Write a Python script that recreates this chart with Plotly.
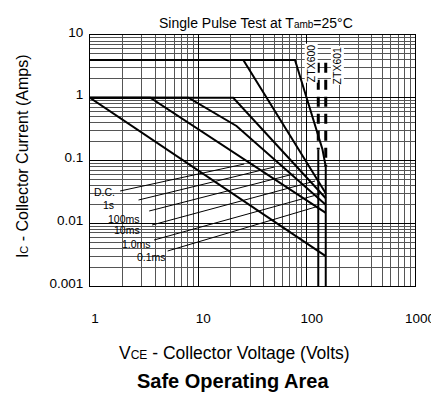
import plotly.graph_objects as go

# ---- data ----
x_tick_vals = [1, 10, 100, 1000]
x_tick_text = ["1", "10", "100", "1000"]
y_tick_vals = [0.001, 0.01, 0.1, 1, 10]
y_tick_text = ["0.001", "0.01", "0.1", "1", "10"]

v_dc = [1, 150]
i_dc = [1.0, 0.003]
v_1s = [1, 3.6, 150]
i_1s = [1.0, 1.0, 0.0146]
v_100ms = [1, 8.1, 22.5, 150]
i_100ms = [1.0, 1.0, 0.355, 0.0198]
v_10ms = [1, 21, 150]
i_10ms = [1.0, 1.0, 0.025]
v_1ms = [1, 26, 150]
i_1ms = [4.0, 4.0, 0.03]
v_01ms = [1, 78, 140, 150]
i_01ms = [4.0, 4.0, 0.15, 0.08]

# VCEO limits (ZTX600 / ZTX601)
v_limit_600 = [128, 128]
i_limit_600_solid = [0.15, 0.001]
i_limit_600_dash = [3.6, 0.15]
v_limit_601 = [150, 150]
i_limit_601_solid = [0.08, 0.001]
i_limit_601_dash = [3.6, 0.08]

curve_labels = ["D.C.", "1s", "100ms", "10ms", "1.0ms", "0.1ms"]

# pixel geometry of the plot area
L, R, T, B = 82, 417, 27, 278
W, H = 439, 395


def px_to_paper(px, py):
    return (px - L) / (R - L), (B - py) / (B - T)


def px_to_data(px, py):
    lv = (px - L) / (R - L) * 3.0
    li = 1.0 - (py - T) / (B - T) * 4.0
    return 10 ** lv, 10 ** li


fig = go.Figure()

line_style = dict(color="black", width=2)
for vx, iy in [(v_dc, i_dc), (v_1s, i_1s), (v_100ms, i_100ms),
               (v_10ms, i_10ms), (v_1ms, i_1ms), (v_01ms, i_01ms)]:
    fig.add_trace(go.Scatter(x=vx, y=iy, mode="lines", line=line_style,
                             hoverinfo="skip", showlegend=False))

for vx, iy in [(v_limit_600, i_limit_600_solid), (v_limit_601, i_limit_601_solid)]:
    fig.add_trace(go.Scatter(x=vx, y=iy, mode="lines", line=line_style,
                             hoverinfo="skip", showlegend=False))
for vx, iy in [(v_limit_600, i_limit_600_dash), (v_limit_601, i_limit_601_dash)]:
    fig.add_trace(go.Scatter(x=vx, y=iy, mode="lines",
                             line=dict(color="black", width=3, dash="10px,7px"),
                             hoverinfo="skip", showlegend=False))

# leader lines from curve labels (pixel positions converted to data)
leaders_px = [
    ((113, 183), (241, 156)),
    ((132, 192), (272, 159)),
    ((143, 203), (292, 166)),
    ((146, 217), (314, 173)),
    ((148, 232), (319, 186)),
    ((162, 243), (318, 198)),
]
for (p0, p1) in leaders_px:
    x0, y0 = px_to_data(*p0)
    x1, y1 = px_to_data(*p1)
    fig.add_trace(go.Scatter(x=[x0, x1], y=[y0, y1], mode="lines",
                             line=dict(color="black", width=1),
                             hoverinfo="skip", showlegend=False))

# white patch behind the curve labels
bx0, by0 = px_to_paper(83, 178)
bx1, by1 = px_to_paper(162, 257)
fig.add_shape(type="rect", xref="paper", yref="paper", x0=bx0, x1=bx1,
              y0=by1, y1=by0, fillcolor="white", line=dict(width=0),
              layer="between")

font = "Liberation Sans, Arial, sans-serif"
annotations = []

# curve labels
label_px = [(84, 184), (93, 197), (99, 211), (105, 222), (113, 236), (128, 249)]
for txt, (px, py) in zip(curve_labels, label_px):
    ax_, ay_ = px_to_paper(px, py)
    annotations.append(dict(x=ax_, y=ay_, xref="paper", yref="paper", text=txt,
                            showarrow=False, xanchor="left", yanchor="middle",
                            font=dict(size=10.5, family=font, color="black")))

# device labels
for txt, (px, py) in [("ZTX600", (310, 55)), ("ZTX601", (337, 57))]:
    ax_, ay_ = px_to_paper(px, py)
    annotations.append(dict(x=ax_, y=ay_, xref="paper", yref="paper", text=txt,
                            showarrow=False, textangle=-90, bgcolor="white",
                            borderpad=0, xanchor="center", yanchor="middle",
                            font=dict(size=10.5, family=font, color="black")))

# titles
tx, ty = px_to_paper(253, 15)
annotations.append(dict(x=tx, y=ty, xref="paper", yref="paper",
                        text="Single Pulse Test at T<span style='font-size:10px'>amb</span>=25°C",
                        showarrow=False, xanchor="center", yanchor="middle",
                        font=dict(size=14, family=font, color="black")))
tx, ty = px_to_paper(231, 345)
annotations.append(dict(x=tx, y=ty, xref="paper", yref="paper",
                        text="V<span style='font-size:12px'>CE</span> - Collector Voltage (Volts)",
                        showarrow=False, xanchor="center", yanchor="middle",
                        font=dict(size=17.5, family=font, color="black")))
tx, ty = px_to_paper(229, 373)
annotations.append(dict(x=tx, y=ty, xref="paper", yref="paper",
                        text="<b>Safe Operating Area</b>",
                        showarrow=False, xanchor="center", yanchor="middle",
                        font=dict(size=20, family=font, color="black")))
tx, ty = px_to_paper(12, 148)
annotations.append(dict(x=tx, y=ty, xref="paper", yref="paper",
                        text="I<span style='font-size:11px'>C</span> - Collector Current (Amps)",
                        showarrow=False, textangle=-90, xanchor="center", yanchor="middle",
                        font=dict(size=16, family=font, color="black")))

fig.update_layout(
    width=W, height=H,
    margin=dict(l=L, r=W - R, t=T, b=H - B, pad=0),
    paper_bgcolor="white", plot_bgcolor="white",
    font=dict(family=font, size=13, color="black"),
    annotations=annotations,
    showlegend=False,
)
fig.update_xaxes(
    type="log", range=[0, 3],
    tickvals=x_tick_vals, ticktext=x_tick_text,
    ticks="", ticklabelstandoff=20, ticklabelshift=5,
    showline=True, linecolor="black", linewidth=1, mirror=True,
    showgrid=True, gridcolor="black", gridwidth=1,
    minor=dict(dtick="D1", showgrid=True, gridcolor="#555555", gridwidth=1),
    tickfont=dict(size=13.5, family=font, color="black"),
    zeroline=False,
)
fig.update_yaxes(
    type="log", range=[-3, 1],
    tickvals=y_tick_vals, ticktext=y_tick_text,
    ticks="", ticklabelstandoff=3, ticklabelshift=-3,
    showline=True, linecolor="black", linewidth=1, mirror=True,
    showgrid=True, gridcolor="black", gridwidth=1,
    minor=dict(dtick="D1", showgrid=True, gridcolor="#555555", gridwidth=1),
    tickfont=dict(size=13.5, family=font, color="black"),
    zeroline=False,
)

fig.write_html("out.html")
